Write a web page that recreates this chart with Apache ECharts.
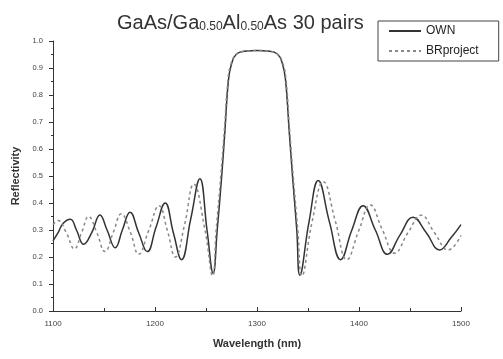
<!DOCTYPE html>
<html>
<head>
<meta charset="utf-8">
<script src="https://cdn.jsdelivr.net/npm/echarts@6/dist/echarts.min.js"></script>
<style>html,body{margin:0;padding:0;background:#fff;}#c{width:503px;height:359px;}</style>
</head>
<body>
<div id="c"></div>
<script>
// OWN (solid)
var ownWavelength = [1100,1105,1110,1117,1123,1130,1138,1146,1153,1161,1168,1175.5,1184,1192.5,1201,1210,1218,1226,1235,1244,1251,1257,1261,1265.4,1268.6,1272,1275,1280,1290,1300,1310,1320,1325,1328,1331.5,1334.8,1339,1342,1351,1360,1371,1382,1393,1404,1416,1428,1440,1453,1466,1479,1490,1500];
var ownReflectivity = [0.26,0.29,0.325,0.34,0.30,0.247,0.29,0.356,0.30,0.234,0.30,0.366,0.29,0.22,0.31,0.40,0.29,0.19,0.34,0.49,0.30,0.14,0.30,0.50,0.67,0.855,0.915,0.952,0.963,0.965,0.963,0.952,0.915,0.855,0.67,0.50,0.30,0.133,0.33,0.483,0.33,0.19,0.30,0.39,0.30,0.21,0.28,0.347,0.29,0.226,0.27,0.32];
// BRproject (dashed)
var brWavelength = [1100,1105,1113,1121,1128,1135,1143,1151,1159,1167,1176,1184,1194,1204,1212,1220,1229,1238,1249,1256.5,1260,1264.5,1268,1271.5,1274.5,1280,1290,1300,1310,1320,1325.5,1328.5,1332,1335.5,1340,1344,1354,1365,1377,1388,1400,1411,1423,1435,1448,1461,1474,1487.5,1500];
var brReflectivity = [0.32,0.335,0.29,0.23,0.29,0.35,0.29,0.22,0.29,0.36,0.29,0.21,0.30,0.39,0.30,0.20,0.32,0.47,0.30,0.13,0.30,0.50,0.67,0.855,0.915,0.952,0.963,0.965,0.963,0.952,0.915,0.855,0.67,0.50,0.30,0.13,0.33,0.479,0.33,0.19,0.30,0.393,0.30,0.214,0.29,0.355,0.29,0.226,0.28];
var xTicks = [1100,1200,1300,1400,1500];
var yTicks = [0.0,0.1,0.2,0.3,0.4,0.5,0.6,0.7,0.8,0.9,1.0];

function pairs(xs, ys){ return xs.map(function(x,i){ return [x, ys[i]]; }); }

var chart = echarts.init(document.getElementById('c'), null, {renderer:'canvas'});
chart.setOption({
  backgroundColor: '#fff',
  animation: false,
  title: {
    text: '{n|GaAs/Ga}{s|0.50}{n|Al}{s|0.50}{n|As 30 pairs}',
    left: 112, top: 5,
    textStyle: {
      fontWeight: 'normal',
      rich: {
        n: {fontFamily: 'Liberation Sans', fontSize: 20, fontWeight: 'normal', color: '#333', verticalAlign: 'bottom', lineHeight: 23},
        s: {fontFamily: 'Liberation Sans', fontSize: 12, fontWeight: 'normal', color: '#333', verticalAlign: 'bottom', lineHeight: 6}
      }
    }
  },
  legend: {
    orient: 'vertical',
    left: 378, top: 21,
    padding: [4, 20, 4, 10],
    itemGap: 8,
    itemWidth: 32, itemHeight: 10,
    borderColor: '#444', borderWidth: 1,
    itemStyle: {opacity: 0},
    textStyle: {fontFamily: 'Liberation Sans', fontSize: 12, color: '#222'},
    data: ['OWN', 'BRproject']
  },
  grid: {left: 53, right: 42, top: 41, bottom: 48},
  xAxis: {
    type: 'value', min: 1100, max: 1500, interval: 100,
    name: 'Wavelength (nm)', nameLocation: 'middle', nameGap: 27,
    nameTextStyle: {fontFamily: 'Liberation Sans', fontSize: 11, fontWeight: 'bold', color: '#333'},
    axisLine: {lineStyle: {color: '#333', width: 1}},
    axisTick: {show: true, inside: true, length: 4, lineStyle: {color: '#333'}},
    minorTick: {show: true, splitNumber: 2, length: 3, lineStyle: {color: '#333'}},
    axisLabel: {fontFamily: 'Liberation Sans', fontSize: 8, color: '#444', margin: 9,
      formatter: function(v){ return xTicks.indexOf(v) >= 0 ? String(v) : ''; }},
    splitLine: {show: false}
  },
  yAxis: {
    type: 'value', min: 0, max: 1, interval: 0.1,
    name: 'Reflectivity', nameLocation: 'middle', nameGap: 27,
    nameTextStyle: {fontFamily: 'Liberation Sans', fontSize: 11, fontWeight: 'bold', color: '#333'},
    axisLine: {show: true, lineStyle: {color: '#333', width: 1}},
    axisTick: {show: true, length: 4, lineStyle: {color: '#333'}},
    minorTick: {show: true, splitNumber: 2, length: 2, lineStyle: {color: '#333'}},
    axisLabel: {fontFamily: 'Liberation Sans', fontSize: 7.5, color: '#444', margin: 10,
      formatter: function(v){ return v.toFixed(1); }},
    splitLine: {show: false}
  },
  series: [
    {
      name: 'OWN', type: 'line', data: pairs(ownWavelength, ownReflectivity),
      smooth: 0.45, showSymbol: false, symbol: 'none',
      lineStyle: {color: '#333', width: 1.5, type: 'solid'},
      itemStyle: {color: '#333'}
    },
    {
      name: 'BRproject', type: 'line', data: pairs(brWavelength, brReflectivity),
      smooth: 0.45, showSymbol: false, symbol: 'none',
      lineStyle: {color: '#888', width: 1.5, type: [3, 3]},
      itemStyle: {color: '#888'}
    }
  ]
});
</script>
</body>
</html>
